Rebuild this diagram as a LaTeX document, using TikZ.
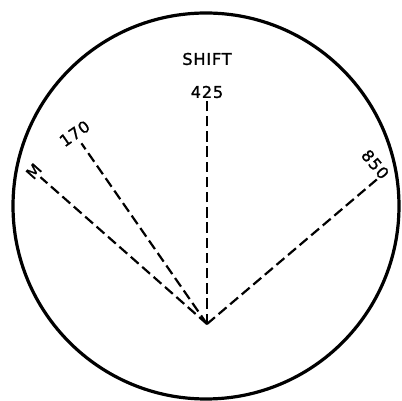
\documentclass[tikz,border=0pt]{standalone}
\usepackage{fontspec}
\newfontfamily\dialfont[LetterSpace=5,FakeBold=1.2]{DejaVu Sans}
\usetikzlibrary{calc}

\tikzset{
  dialline/.style={line width=0.8mm},
  ray/.style={line width=0.55mm, dash pattern=on 2.6mm off 1.2mm},
  raylabel/.style={font=\dialfont\fontsize{11.5}{13}\selectfont, inner sep=0pt},
}

\begin{document}
\begin{tikzpicture}[x=0.25mm,y=0.25mm]
    \useasboundingbox (0,0) rectangle (402,401);

    % The dial
    \draw[dialline] (206,195) circle (193);

    % Common origin of the rays
    \coordinate (apex) at (207,77);

    % Ends of the rays
    \coordinate (endM) at ($(apex)+(138.6:222)$);
    \coordinate (end170) at ($(apex)+(124.8:220)$);
    \coordinate (end425) at ($(apex)+(90:224)$);
    \coordinate (end850) at ($(apex)+(40.4:223)$);

    % Labels at the ends
    \node[raylabel, rotate=48.6] (labM) at ($(apex)+(138.6:231)$) {M};
    \node[raylabel, rotate=34.8] (lab170) at ($(apex)+(124.8:232)$) {170};
    \node[raylabel] (lab425) at ($(apex)+(90:232)$) {425};
    \node[raylabel, rotate=-49.6] (lab850) at ($(apex)+(43.5:232)$) {850};
    \node[raylabel] (shift) at ($(apex)+(90:265)$) {SHIFT};

    % Dashed rays
    \draw[ray] (apex) -- (endM);
    \draw[ray] (apex) -- (end170);
    \draw[ray] (apex) -- (end425);
    \draw[ray] (apex) -- (end850);
\end{tikzpicture}
\end{document}
